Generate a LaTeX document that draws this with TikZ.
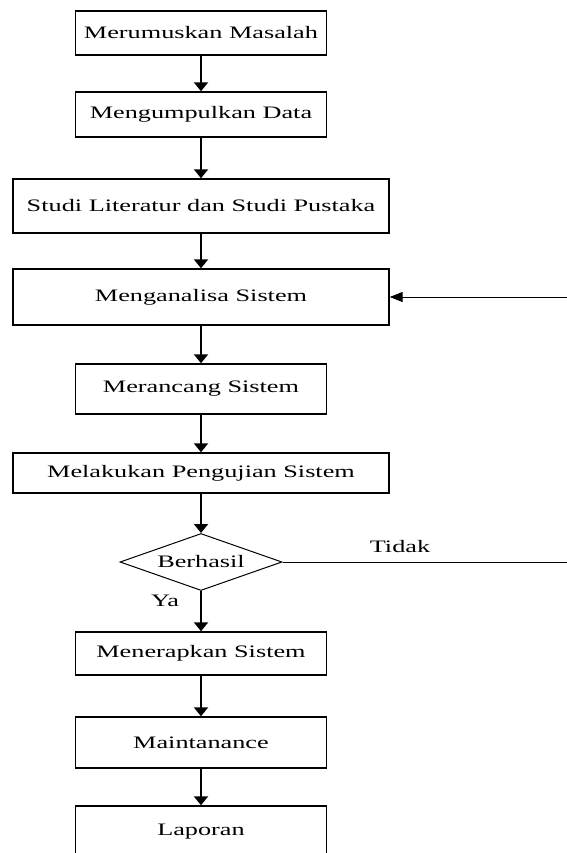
\documentclass[tikz,border=0pt]{standalone}
\usepackage{fontspec}
\setmainfont[FakeStretch=1.5]{Liberation Serif}
\usetikzlibrary{shapes.geometric,arrows.meta}

\begin{document}
\begin{tikzpicture}[
    x=1pt, y=1pt,
    box/.style={draw, line width=1.4pt, inner sep=0pt, minimum width=251pt},
    widebox/.style={box, minimum width=376pt},
    cond/.style={draw, diamond, aspect=2.8, line width=1pt, inner sep=0pt, minimum width=162pt, minimum height=57pt},
    flow/.style={line width=2pt, -{Triangle[width=14pt,length=9pt]}},
    back/.style={line width=1pt}
]
    \useasboundingbox (0,0) rectangle (566,-853);
    \fontsize{17.5}{21}\selectfont

    \node[box, minimum height=44pt] (rumus) at (201,-33) {Merumuskan Masalah};
    \node[box, minimum height=45pt] (kumpul) at (201,-114.5) {Mengumpulkan Data};
    \node[widebox, minimum height=54pt] (studi) at (201,-206) {Studi Literatur dan Studi Pustaka};
    \node[widebox, minimum height=56pt] (analisa) at (201,-297) {Menganalisa Sistem};
    \node[box, minimum height=50pt] (rancang) at (201,-389) {Merancang Sistem};
    \node[widebox, minimum height=40pt] (uji) at (201,-473) {Melakukan Pengujian Sistem};
    \node[cond] (hasil) at (201,-562) {Berhasil};
    \node[box, minimum height=43pt] (terap) at (201,-653.5) {Menerapkan Sistem};
    \node[box, minimum height=51pt] (maint) at (201,-742.5) {Maintanance};
    \node[box, minimum height=51pt] (lapor) at (201,-831.5) {Laporan};

    \node (ya) at (165,-601) {Ya};
    \node (tidak) at (400,-547) {Tidak};

    \coordinate (kanan1) at (568,-562);
    \coordinate (kanan2) at (568,-297);

    \draw[flow] (rumus) -- (kumpul);
    \draw[flow] (kumpul) -- (studi);
    \draw[flow] (studi) -- (analisa);
    \draw[flow] (analisa) -- (rancang);
    \draw[flow] (rancang) -- (uji);
    \draw[flow] (uji) -- (hasil);
    \draw[flow] (hasil) -- (terap);
    \draw[flow] (terap) -- (maint);
    \draw[flow] (maint) -- (lapor);

    % jalur kembali jika tidak berhasil
    \draw[back, -{Triangle[width=10pt,length=13pt]}] (hasil.east) -- (kanan1) -- (kanan2) -- (analisa.east);
\end{tikzpicture}
\end{document}
